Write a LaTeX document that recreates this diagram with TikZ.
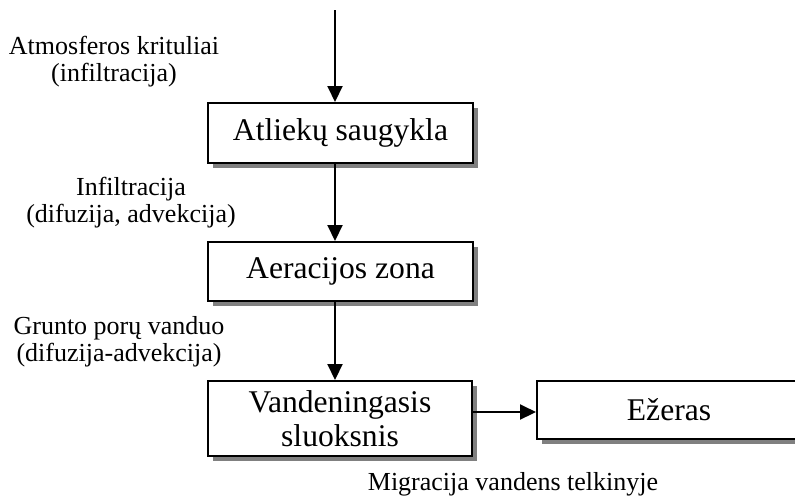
\documentclass[tikz,border=0pt]{standalone}
\usepackage{fontspec}
\setmainfont{Liberation Serif}
\usetikzlibrary{arrows.meta,shadows}
\definecolor{shgray}{RGB}{128,128,128}
\begin{document}
\begin{tikzpicture}[x=0.5pt,y=-0.5pt,
  box/.style={draw,line width=1pt,fill=white,inner sep=0pt,
    font=\fontsize{15.8}{17}\selectfont,align=center,
    drop shadow={shadow xshift=2.5pt,shadow yshift=-2.5pt,fill=shgray,opacity=1}},
  lbl/.style={font=\fontsize{13}{13.5}\selectfont,align=center,inner sep=0pt},
  arr/.style={line width=1pt,-{Triangle[length=8pt,width=7.5pt]}}]
\useasboundingbox (0,0) rectangle (795,500);
\clip (0,0) rectangle (795,500);

\node[box,minimum width=132.5pt,minimum height=30pt] (b1) at (340.5,133) {Atliekų saugykla};
\node[box,minimum width=132.5pt,minimum height=29.5pt] (b2) at (340.5,271.5) {Aeracijos zona};
\node[box,minimum width=132pt,minimum height=37.5pt] (b3) at (340,418.5) {Vandeningasis\\sluoksnis};
\node[box,minimum width=132pt,minimum height=29pt] (b4) at (669,410) {Ežeras};

\coordinate (top) at (335,10);
\coordinate (mid) at (0,412);
\draw[arr] (top) -- (top |- b1.north);
\draw[arr] (b1.south -| top) -- (b2.north -| top);
\draw[arr] (b2.south -| top) -- (b3.north -| top);
\draw[arr] (b3.east |- mid) -- (b4.west |- mid);

\node[lbl] (l1) at (114,62) {Atmosferos krituliai\\(infiltracija)};
\node[lbl] (l2) at (131,203) {Infiltracija\\(difuzija, advekcija)};
\node[lbl] (l3) at (119,341.5) {Grunto porų vanduo\\(difuzija-advekcija)};
\node[lbl,anchor=base] (l4) at (513,490) {Migracija vandens telkinyje};
\end{tikzpicture}
\end{document}
